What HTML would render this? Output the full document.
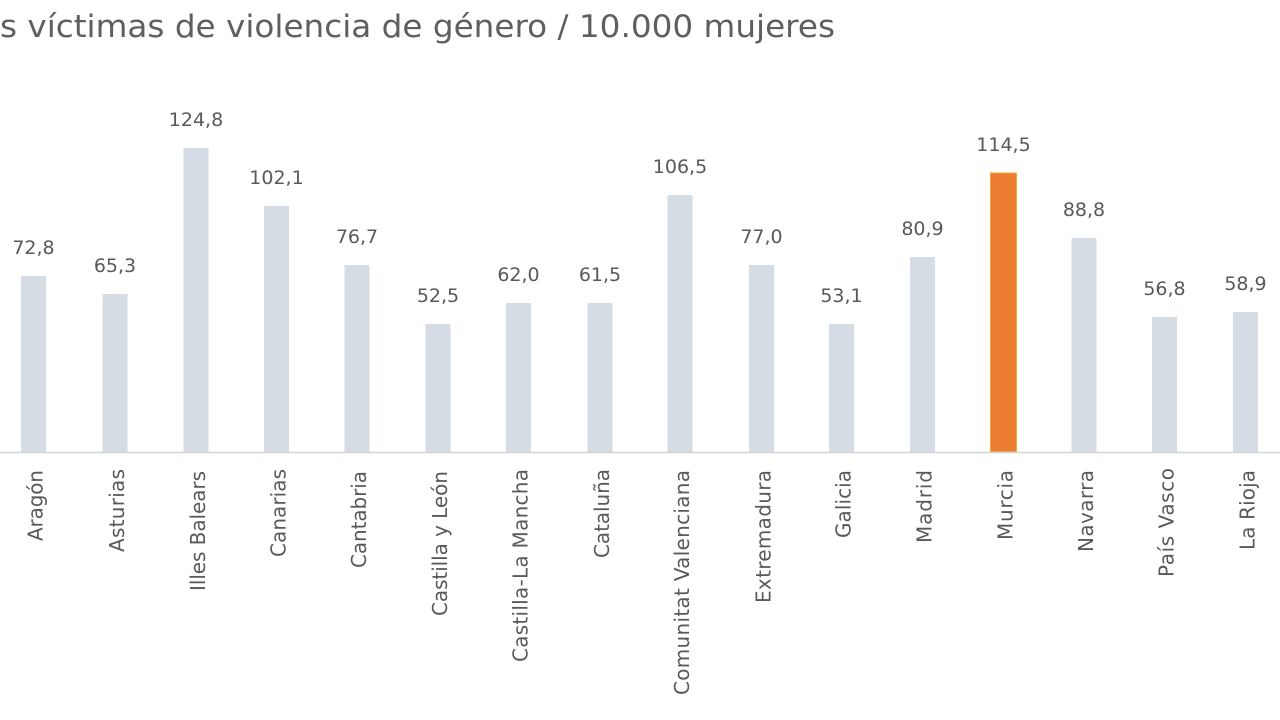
<!DOCTYPE html>
<html>
<head>
<meta charset="utf-8">
<style>
html,body{margin:0;padding:0;background:#ffffff;}
svg{display:block;}
text{font-family:"DejaVu Sans","Liberation Sans",sans-serif;}
</style>
</head>
<body>
<svg width="1280" height="720" viewBox="0 0 1280 720" xmlns="http://www.w3.org/2000/svg">
<rect x="0" y="0" width="1280" height="720" fill="#ffffff"/>
<text x="0" y="37" font-size="31" fill="#5f5f5f" textLength="835" lengthAdjust="spacingAndGlyphs">s víctimas de violencia de género / 10.000 mujeres</text>

<g fill="#d6dce4">
<rect x="21" y="276" width="25" height="176"/>
<rect x="102.5" y="294" width="25" height="158"/>
<rect x="183.5" y="148" width="25" height="304"/>
<rect x="264" y="206" width="25" height="246"/>
<rect x="344.5" y="265" width="25" height="187"/>
<rect x="425.5" y="324" width="25" height="128"/>
<rect x="506" y="303" width="25" height="149"/>
<rect x="587.5" y="303" width="25" height="149"/>
<rect x="667.5" y="195" width="25" height="257"/>
<rect x="749" y="265" width="25" height="187"/>
<rect x="829" y="324" width="25" height="128"/>
<rect x="910" y="257" width="25" height="195"/>
<rect x="1071.5" y="238" width="25" height="214"/>
<rect x="1152" y="317" width="25" height="135"/>
<rect x="1233" y="312" width="25" height="140"/>
</g>
<rect x="990.5" y="173" width="26" height="279" fill="#ed7d31" stroke="#f2a93b" stroke-width="1"/>

<line x1="0" y1="452.5" x2="1280" y2="452.5" stroke="#d4d4d4" stroke-width="1.6"/>

<g font-size="19" fill="#595959" text-anchor="middle">
<text x="33.5" y="254">72,8</text>
<text x="115" y="272">65,3</text>
<text x="196" y="126">124,8</text>
<text x="276.5" y="184">102,1</text>
<text x="357" y="243">76,7</text>
<text x="438" y="302">52,5</text>
<text x="518.5" y="281">62,0</text>
<text x="600" y="281">61,5</text>
<text x="680" y="173">106,5</text>
<text x="761.5" y="243">77,0</text>
<text x="841.5" y="302">53,1</text>
<text x="922.5" y="235">80,9</text>
<text x="1003.5" y="151">114,5</text>
<text x="1084" y="216">88,8</text>
<text x="1164.5" y="295">56,8</text>
<text x="1245.5" y="290">58,9</text>
</g>

<g font-size="20" fill="#595959" text-anchor="end">
<text transform="translate(42.5,470) rotate(-90)" textLength="71" lengthAdjust="spacing">Aragón</text>
<text transform="translate(124,469) rotate(-90)" textLength="83" lengthAdjust="spacing">Asturias</text>
<text transform="translate(205,471) rotate(-90)" textLength="120" lengthAdjust="spacing">Illes Balears</text>
<text transform="translate(285.5,469) rotate(-90)" textLength="88" lengthAdjust="spacing">Canarias</text>
<text transform="translate(366,471) rotate(-90)" textLength="97" lengthAdjust="spacing">Cantabria</text>
<text transform="translate(447,471) rotate(-90)" textLength="145" lengthAdjust="spacing">Castilla y León</text>
<text transform="translate(527.5,469) rotate(-90)" textLength="193" lengthAdjust="spacing">Castilla-La Mancha</text>
<text transform="translate(609,469) rotate(-90)" textLength="89" lengthAdjust="spacing">Cataluña</text>
<text transform="translate(689,470) rotate(-90)" textLength="225" lengthAdjust="spacing">Comunitat Valenciana</text>
<text transform="translate(770.5,470) rotate(-90)" textLength="133" lengthAdjust="spacing">Extremadura</text>
<text transform="translate(850.5,470) rotate(-90)" textLength="68" lengthAdjust="spacing">Galicia</text>
<text transform="translate(931.5,470) rotate(-90)" textLength="73" lengthAdjust="spacing">Madrid</text>
<text transform="translate(1012.5,470) rotate(-90)" textLength="70" lengthAdjust="spacing">Murcia</text>
<text transform="translate(1093,470) rotate(-90)" textLength="82" lengthAdjust="spacing">Navarra</text>
<text transform="translate(1173.5,468) rotate(-90)" textLength="109" lengthAdjust="spacing">País Vasco</text>
<text transform="translate(1254.5,470) rotate(-90)" textLength="80" lengthAdjust="spacing">La Rioja</text>
</g>
</svg>
</body>
</html>
